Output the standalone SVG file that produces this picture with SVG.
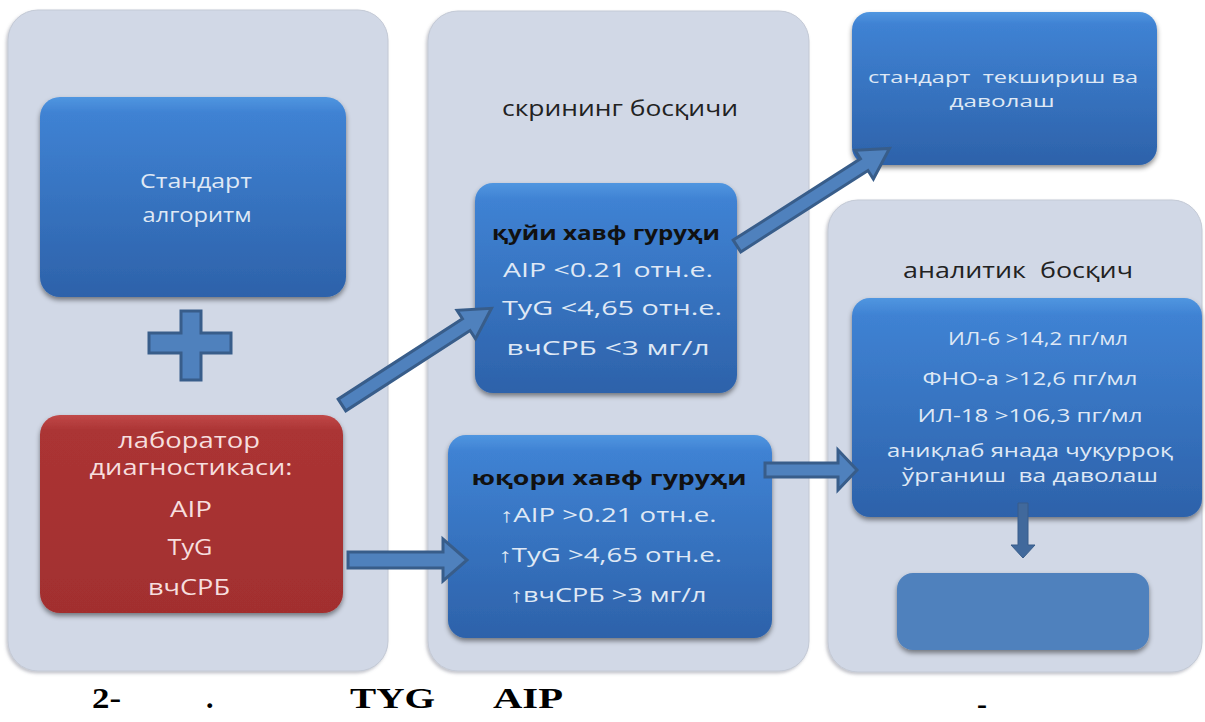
<svg xmlns="http://www.w3.org/2000/svg" width="1205" height="722" viewBox="0 0 1205 722">
<defs>
<linearGradient id="blueG" x1="0" y1="0" x2="0" y2="1">
<stop offset="0" stop-color="#5096e0"/>
<stop offset="0.08" stop-color="#3f82d3"/>
<stop offset="1" stop-color="#2d62aa"/>
</linearGradient>
<linearGradient id="redG" x1="0" y1="0" x2="0" y2="1">
<stop offset="0" stop-color="#c04848"/>
<stop offset="0.08" stop-color="#ab3434"/>
<stop offset="1" stop-color="#a22f2f"/>
</linearGradient>
<filter id="sh" x="-10%" y="-10%" width="120%" height="125%">
<feDropShadow dx="0" dy="3" stdDeviation="2.5" flood-color="#000" flood-opacity="0.45"/>
</filter>
<filter id="psh" x="-5%" y="-5%" width="110%" height="110%">
<feDropShadow dx="-1.5" dy="2" stdDeviation="1.5" flood-color="#6a7080" flood-opacity="0.4"/>
</filter>
</defs>
<style>
.panel{fill:#d1d8e6;stroke:#c3c9d5;stroke-width:1}
.box{fill:url(#blueG)}
.t{font-family:"Open Sans","Noto Sans",sans-serif;fill:#dfe8f5;text-anchor:middle}
.h{font-family:"Open Sans","Noto Sans",sans-serif;fill:#111;font-weight:bold;text-anchor:middle}
.d{font-family:"Open Sans","Noto Sans",sans-serif;fill:#222;text-anchor:middle}
.arr{fill:#4f81bd;stroke:#385d8a;stroke-width:3;stroke-linejoin:miter}
.cap{font-family:"Liberation Serif","Times New Roman",serif;font-weight:bold;font-size:30px;fill:#000}
</style>
<rect width="1205" height="722" fill="#ffffff"/>

<g id="panel-left">
<rect class="panel" filter="url(#psh)" x="8" y="10" width="380" height="661" rx="30"/>
</g>
<g id="panel-screening">
<rect class="panel" filter="url(#psh)" x="428" y="11" width="381" height="660" rx="30"/>
<text class="d" x="620" y="116" font-size="22" textLength="236" lengthAdjust="spacingAndGlyphs">скрининг босқичи</text>
</g>
<g id="panel-analytic">
<rect class="panel" filter="url(#psh)" x="828" y="200" width="374" height="472" rx="30"/>
<text class="d" x="1018" y="278" font-size="22" textLength="230" lengthAdjust="spacingAndGlyphs" xml:space="preserve">аналитик  босқич</text>
</g>

<g id="node-standard-algorithm">
<rect class="box" filter="url(#sh)" x="40" y="97" width="306" height="200" rx="20"/>
<text class="t" x="196" y="188" font-size="20" textLength="112" lengthAdjust="spacingAndGlyphs">Стандарт</text>
<text class="t" x="197" y="222" font-size="20" textLength="109" lengthAdjust="spacingAndGlyphs">алгоритм</text>
</g>

<g id="node-plus">
<path d="M181,311 L201,311 L201,333 L231,333 L231,353 L201,353 L201,380 L181,380 L181,353 L149,353 L149,333 L181,333 Z" fill="#4f81bd" stroke="#385d8a" stroke-width="3"/>
</g>

<g id="node-lab">
<rect filter="url(#sh)" fill="url(#redG)" x="40" y="415" width="303" height="198" rx="20"/>
<g class="t" style="fill:#f6dede" font-size="21">
<text x="189" y="448" textLength="142" lengthAdjust="spacingAndGlyphs">лаборатор</text>
<text x="191" y="475" textLength="203" lengthAdjust="spacingAndGlyphs">диагностикаси:</text>
<text x="191" y="517" textLength="42" lengthAdjust="spacingAndGlyphs">AIP</text>
<text x="190" y="555" textLength="45" lengthAdjust="spacingAndGlyphs">TyG</text>
<text x="189" y="595" textLength="82" lengthAdjust="spacingAndGlyphs">вчСРБ</text>
</g>
</g>

<g id="node-low-risk">
<rect class="box" filter="url(#sh)" x="475" y="183" width="262" height="210" rx="18"/>
<text class="h" x="606" y="240" font-size="20" textLength="228" lengthAdjust="spacingAndGlyphs">қуйи хавф гуруҳи</text>
<text class="t" x="608" y="277" font-size="20" textLength="210" lengthAdjust="spacingAndGlyphs">AIP &lt;0.21 отн.е.</text>
<text class="t" x="612" y="315" font-size="20" textLength="220" lengthAdjust="spacingAndGlyphs">TyG &lt;4,65 отн.е.</text>
<text class="t" x="608" y="355" font-size="20" textLength="203" lengthAdjust="spacingAndGlyphs">вчСРБ &lt;3 мг/л</text>
</g>

<g id="node-high-risk">
<rect class="box" filter="url(#sh)" x="448" y="435" width="324" height="203" rx="18"/>
<text class="h" x="609" y="485" font-size="20" textLength="275" lengthAdjust="spacingAndGlyphs">юқори хавф гуруҳи</text>
<text class="t" x="608" y="522" font-size="20" textLength="217" lengthAdjust="spacingAndGlyphs">↑AIP &gt;0.21 отн.е.</text>
<text class="t" x="610" y="562" font-size="20" textLength="224" lengthAdjust="spacingAndGlyphs">↑TyG &gt;4,65 отн.е.</text>
<text class="t" x="608" y="602" font-size="20" textLength="197" lengthAdjust="spacingAndGlyphs">↑вчСРБ &gt;3 мг/л</text>
</g>

<g id="node-standard-treatment">
<rect class="box" filter="url(#sh)" x="852" y="12" width="305" height="153" rx="18"/>
<text class="t" x="1003" y="83" font-size="17" textLength="270" lengthAdjust="spacingAndGlyphs" xml:space="preserve">стандарт  текшириш ва</text>
<text class="t" x="1002" y="107" font-size="17" textLength="105" lengthAdjust="spacingAndGlyphs">даволаш</text>
</g>

<g id="node-analytic">
<rect class="box" filter="url(#sh)" x="852" y="298" width="350" height="219" rx="18"/>
<text class="t" x="1038" y="345" font-size="18" textLength="180" lengthAdjust="spacingAndGlyphs">ИЛ-6 &gt;14,2 пг/мл</text>
<text class="t" x="1030" y="385" font-size="18" textLength="215" lengthAdjust="spacingAndGlyphs">ФНО-а &gt;12,6 пг/мл</text>
<text class="t" x="1030" y="422" font-size="18" textLength="225" lengthAdjust="spacingAndGlyphs">ИЛ-18 &gt;106,3 пг/мл</text>
<text class="t" x="1030" y="457" font-size="18" textLength="286" lengthAdjust="spacingAndGlyphs">аниқлаб янада чуқурроқ</text>
<text class="t" x="1030" y="482" font-size="18" textLength="256" lengthAdjust="spacingAndGlyphs" xml:space="preserve">ўрганиш  ва даволаш</text>
</g>

<g id="node-empty">
<rect filter="url(#sh)" fill="#4f81bd" x="897" y="573" width="252" height="77" rx="16"/>
</g>

<g id="connectors">
<path class="arr" transform="translate(342,405) rotate(-32.9)" d="M0,-7 L148,-7 L148,-17 L178,0 L148,17 L148,7 L0,7 Z"/>
<path class="arr" transform="translate(737,246) rotate(-32.6)" d="M0,-7 L151,-7 L151,-17 L181,0 L151,17 L151,7 L0,7 Z"/>
<path class="arr" d="M348,552 L443,552 L443,539 L467,560 L443,581 L443,568 L348,568 Z"/>
<path class="arr" d="M765,463 L838,463 L838,450 L857,470 L838,490 L838,477 L765,477 Z"/>
<path d="M1018,503 L1028,503 L1028,545 L1035,545 L1023,558 L1011,545 L1018,545 Z" fill="#41699c" stroke="#385d8a" stroke-width="1"/>
</g>

<g id="caption">
<text class="cap" x="92" y="708" textLength="29" lengthAdjust="spacingAndGlyphs">2-</text>
<text class="cap" x="206" y="708">.</text>
<text class="cap" x="350" y="708" textLength="85" lengthAdjust="spacingAndGlyphs">TYG</text>
<text class="cap" x="493" y="708" textLength="70" lengthAdjust="spacingAndGlyphs">AIP</text>
<text class="cap" x="977" y="714">-</text>
</g>
</svg>
